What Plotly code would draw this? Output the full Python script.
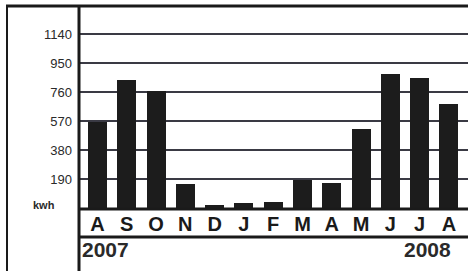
import plotly.graph_objects as go

months = ["A", "S", "O", "N", "D", "J", "F", "M", "A", "M", "J", "J", "A"]
kwh = [563, 839, 765, 157, 22, 35, 40, 183, 164, 518, 878, 852, 681]
ytick_vals = [190, 380, 570, 760, 950, 1140]
ytick_text = ["190", "380", "570", "760", "950", "1140"]
years = ["2007", "2008"]

W, H = 468, 271
def px(x):
    return x / W
def py(y):
    return 1 - y / H

FONT = "Arial, Liberation Sans, sans-serif"
x_idx = list(range(len(months)))

fig = go.Figure()
fig.add_trace(go.Bar(
    x=x_idx, y=kwh, width=0.65,
    marker=dict(color="#1c1c1c", line=dict(width=0)),
    hoverinfo="skip",
))

fig.update_layout(
    width=W, height=H,
    margin=dict(l=0, r=0, t=0, b=0),
    paper_bgcolor="white", plot_bgcolor="white",
    showlegend=False,
    bargap=0,
    xaxis=dict(
        domain=[px(79), 1], range=[-0.63, 12.65],
        tickvals=x_idx, ticktext=months,
        tickfont=dict(family=FONT, size=20, color="#1a1a1a", weight="bold"),
        ticks="", showgrid=False, zeroline=False, showline=False,
        ticklabelstandoff=1,
    ),
    yaxis=dict(
        domain=[py(208.5), py(6)], range=[0, 1323],
        tickvals=ytick_vals, ticktext=ytick_text,
        tickfont=dict(family=FONT, size=13, color="#2a2a2a"),
        ticks="", showgrid=True, gridcolor="#3a3a44", gridwidth=1.5,
        zeroline=False, showline=False, ticklabelstandoff=6,
    ),
)

lc = "#1a1a1a"
shapes = [
    dict(type="line", xref="paper", yref="paper", x0=px(6), x1=1, y0=py(6), y1=py(6), line=dict(color=lc, width=3)),
    dict(type="line", xref="paper", yref="paper", x0=px(7), x1=px(7), y0=0, y1=py(6), line=dict(color=lc, width=2)),
    dict(type="line", xref="paper", yref="paper", x0=px(79), x1=px(79), y0=0, y1=py(6), line=dict(color=lc, width=3)),
    dict(type="line", xref="paper", yref="paper", x0=px(79), x1=1, y0=py(209), y1=py(209), line=dict(color=lc, width=3)),
    dict(type="line", xref="paper", yref="paper", x0=px(79), x1=1, y0=py(237), y1=py(237), line=dict(color=lc, width=3)),
]
fig.update_layout(shapes=shapes)

fig.add_annotation(text="kwh", xref="paper", yref="paper", x=px(44), y=py(205),
                   showarrow=False, font=dict(family=FONT, size=11, color="#2a2a2a", weight="bold"),
                   xanchor="center", yanchor="middle")
fig.add_annotation(text=years[0], xref="paper", yref="paper", x=px(80), y=py(249),
                   showarrow=False, font=dict(family=FONT, size=21, color="#2a2a2a", weight="bold"),
                   xanchor="left", yanchor="middle")
fig.add_annotation(text=years[1], xref="paper", yref="paper", x=px(453), y=py(249),
                   showarrow=False, font=dict(family=FONT, size=21, color="#2a2a2a", weight="bold"),
                   xanchor="right", yanchor="middle")

fig.write_html("out.html", config={"displayModeBar": False},
               post_script="document.body.style.margin='0';document.body.style.overflow='hidden';")
